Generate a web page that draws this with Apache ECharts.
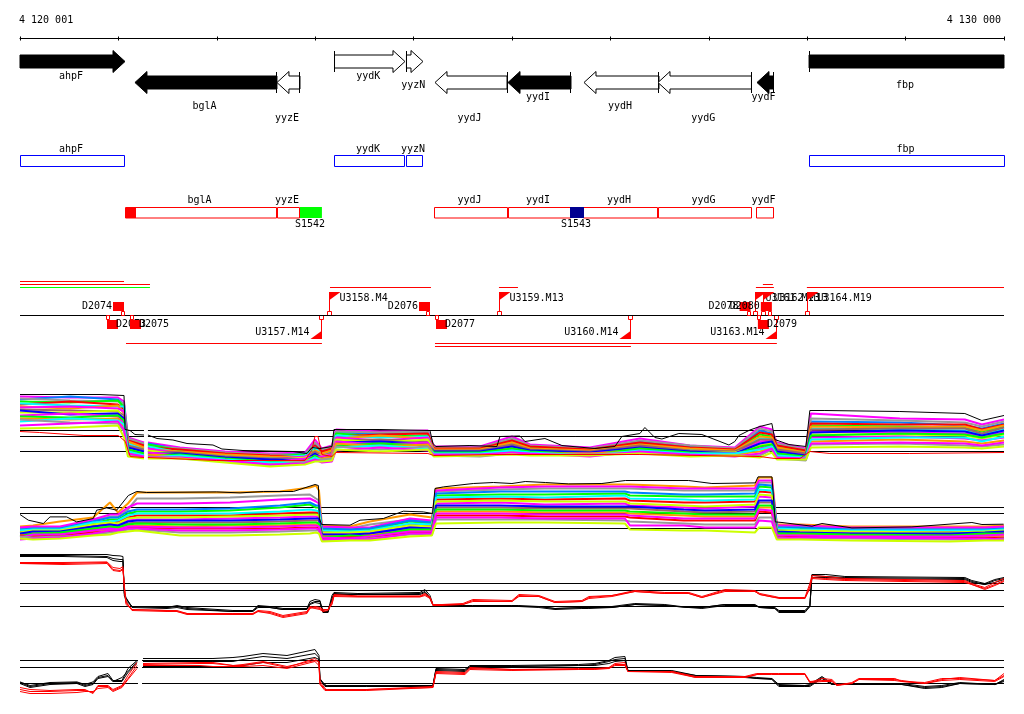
<!DOCTYPE html>
<html>
<head>
<meta charset="utf-8">
<style>html,body{margin:0;background:#fff}#chart{width:1024px;height:714px}</style>
<script src="https://cdn.jsdelivr.net/npm/echarts@6/dist/echarts.min.js"></script>
</head>
<body>
<div id="chart"></div>
<script>
// all positions are bp from the start of the window (4 120 001)
const rulerLabels = ['4 120 001', '4 130 000'];

// annotated genes
const geneNames = ['ahpF', 'bglA', 'yyzE', 'yydK', 'yyzN', 'yydJ', 'yydI', 'yydH', 'yydG', 'yydF', 'fbp'];
const geneStart = [0, 1168, 2611, 3196, 3927, 4217, 4959, 5731, 6483, 7489, 8018];
const geneEnd = [1067, 2611, 2845, 3912, 4095, 4949, 5599, 6493, 7433, 7652, 9999];
const geneStrand = [1, -1, -1, 1, 1, -1, -1, -1, -1, -1, 1];
const geneSolid = [1, 1, 0, 0, 0, 0, 1, 0, 0, 1, 1];
const geneLane = [0, 1, 1, 0, 0, 1, 1, 1, 1, 1, 0];
const geneLabelRow = [0, 3, 4, 0, 1, 4, 2, 3, 4, 2, 1];

// transcription units
const blueNames = ['ahpF', 'yydK', 'yyzN', 'fbp'];
const blueStart = [0, 3196, 3927, 8018];
const blueEnd = [1062, 3912, 4095, 9999];
const redNames = ['bglA', 'yyzE', 'yydJ', 'yydI', 'yydH', 'yydG', 'yydF'];
const redStart = [1077, 2616, 4217, 4959, 5731, 6493, 7489];
const redEnd = [2611, 2845, 4949, 5589, 6483, 7433, 7652];

// filled blocks on the transcription unit row
const blockNames = ['', 'S1542', 'S1543'];
const blockStart = [1077, 2845, 5589];
const blockEnd = [1179, 3068, 5731];
const blockColours = ['#ff0000', '#00ff00', '#000090'];

// read bars
const readStart = [0, 0, 0, 3150, 4867, 7478, 7549, 7996, 1077, 4217, 4217];
const readEnd = [1057, 1321, 1321, 4176, 5060, 7661, 7651, 9999, 3068, 7691, 6208];
const readLane = [0, 1, 2, 2, 2, 2, 1, 2, 3, 3, 4];
const readColours = ['#ff0000', '#ff0000', '#00ff00', '#ff0000', '#ff0000', '#ff0000', '#ff0000', '#ff0000', '#ff0000', '#ff0000', '#ff0000'];

// promoter flags and terminator boxes on the strand line
const flagNames = ['U3157.M14', 'U3158.M4', 'U3159.M13', 'U3160.M14', 'U3161.M13', 'U3162.M13', 'U3163.M14', 'U3164.M19'];
const flagPos = [3068, 3150, 4872, 6203, 7478, 7559, 7691, 8001];
const flagStrand = [-1, 1, 1, -1, 1, 1, -1, 1];
const termNames = ['D2073', 'D2074', 'D2075', 'D2076', 'D2077', 'D2078', 'D2079', 'D2080'];
const termPos = [884, 1057, 1118, 4166, 4227, 7424, 7498, 7640];
const termStrand = [-1, 1, -1, 1, -1, 1, -1, 1];

// levels of the three horizontal reference lines
const track1Refs = [0, 15, 21];
const track2Refs = [0, 15, 21];
const track3Refs = [0, 16, 23];
const track4Refs = [0, 16, 23];
const refPosGap1 = [0, 1260, 1280, 1300, 9999];
const refPosGap4 = [0, 1199, 1219, 1240, 9999];
const refPosFull = [0, 9999];

// track 1: one row per position, one value per hybridisation
const track1Pos = [0, 508, 996, 1057, 1097, 1260, 1280, 1300, 1626, 2083, 2540, 2896, 2997, 3068, 3170, 3211, 3658, 4145, 4206, 4674, 4999, 5182, 5791, 6299, 6807, 7264, 7518, 7640, 7691, 7986, 8037, 8941, 9601, 9774, 9999];
const track1Rows = [
  [55,52,53,50,47,48,45,44,42,39,41,36,35,33,30,32,26,23],
  [54,55,51,49,50,46,43,45,41,39,37,38,34,32,33,29,28,24],
  [54,52,50,51,47,45,46,43,40,41,38,35,36,33,31,28,30,26],
  [50,47,48,44,42,45,38,40,36,30,33,28,31,24,27,20,22,14],
  [14,12,13,9,11,8,10,5,6,3,4,1,2,-1,0,-3,-2,-5],
  [9,7,8,5,6,3,4,1,2,-1,0,-3,-2,-5,-4,-6,-5,-7],
  [null,null,null,null,null,null,null,null,null,null,null,null,null,null,null,null,null,null],
  [9,8,6,7,4,5,2,3,0,1,-2,-1,-4,-3,-6,-5,-6,-7],
  [4,2,3,1,2,-1,0,-2,-1,-3,-2,-4,-3,-5,-4,-7,-6,-7],
  [0,-2,-1,-3,-2,-4,-3,-6,-5,-7,-6,-8,-7,-9,-8,-10,-9,-11],
  [-2,-4,-3,-5,-4,-6,-5,-8,-7,-9,-8,-11,-10,-12,-11,-14,-13,-15],
  [-1,-2,-3,-3,-5,-4,-6,-5,-7,-6,-8,-7,-10,-9,-11,-10,-12,-13],
  [12,7,9,3,6,4,1,-1,0,-3,-2,-5,-4,-7,-6,-9,-8,-10],
  [3,1,2,-1,0,-3,-2,-4,-5,-4,-6,-5,-8,-7,-9,-8,-11,-10],
  [6,4,5,2,3,0,1,-2,-1,-3,-4,-3,-6,-5,-8,-7,-10,-9],
  [22,19,20,18,15,16,13,14,11,12,9,10,6,8,4,5,1,2],
  [20,18,19,15,17,14,16,11,12,9,10,7,8,5,6,2,4,0],
  [21,19,20,16,18,15,13,14,10,12,8,9,6,7,3,5,1,2],
  [5,3,4,2,3,1,2,0,1,-1,0,-2,-1,-3,-2,-4,-3,-5],
  [5,3,4,2,3,1,2,0,1,-1,0,-2,-1,-3,-2,-5,-3,-4],
  [15,12,13,10,11,8,9,6,7,4,5,2,3,0,1,-2,-1,-3],
  [7,5,6,4,5,2,3,1,2,0,1,-1,0,-2,-1,-3,-2,-4],
  [4,2,3,1,2,0,1,-1,0,-2,-1,-2,-3,-2,-4,-3,-5,-4],
  [13,10,11,8,9,6,7,5,6,3,4,2,3,0,1,-1,0,-2],
  [6,5,6,3,4,2,3,0,1,-1,0,-2,-1,-3,-2,-4,-3,-5],
  [4,2,3,1,2,0,1,-1,0,-1,-2,-2,-3,-3,-2,-4,-5,-4],
  [25,21,23,17,19,13,15,10,12,6,8,3,5,0,2,-4,-2,-6],
  [22,18,20,15,17,13,14,11,12,8,10,6,7,4,5,2,3,-1],
  [9,7,8,5,6,3,4,1,2,-1,0,-3,-2,-5,-4,-7,-6,-8],
  [3,1,2,0,1,-2,-1,-3,-2,-5,-4,-6,-5,-7,-6,-9,-7,-8],
  [38,30,33,26,28,23,25,20,22,17,19,14,16,10,12,7,8,4],
  [33,29,31,25,27,22,24,19,23,17,21,15,18,12,14,8,9,5],
  [32,26,29,24,27,21,25,18,23,16,20,13,17,10,14,6,8,4],
  [27,23,25,20,22,17,21,15,18,13,16,11,14,8,10,5,6,3],
  [32,28,30,25,27,22,26,19,24,17,21,14,18,11,15,7,9,5]
];
const track1Colours = ['#ff00ff', '#0080ff', '#999999', '#00ff00', '#ff0000', '#00ffff', '#ff9900', '#ff00ff', '#996666', '#ccff00', '#0000ff', '#ff00ff', '#00ff00', '#ff9900', '#00ffff', '#999999', '#ff00ff', '#ccff00'];
const track1BlackPos = [0, 813, 1057, 1067, 1118, 1168, 1260, 1280, 1300, 1392, 1554, 1697, 1961, 2052, 2266, 2774, 2916, 2967, 3048, 3170, 3190, 3658, 4166, 4196, 4227, 4572, 4846, 4877, 5080, 5131, 5334, 5507, 5842, 6045, 6116, 6299, 6350, 6451, 6523, 6695, 6929, 7204, 7264, 7305, 7417, 7518, 7640, 7671, 7813, 7986, 8026, 8179, 8941, 9601, 9774, 9999];
const track1Black = [57, 57, 56, 22, 21, 17, 16.5, null, 16.5, 13, 11.5, 8, 6.5, 2.5, 1, 0, -2, 4, 3, 5, 22, 22, 21, 8, 5, 6, 5, 15, 15.5, 10, 13, 6, 3, 5, 15, 18, 24, 14, 12.5, 18, 17, 6.5, 10, 16, 21.5, 25, 28, 12, 7, 5, 41, 41, 40, 38, 31, 36];
const track1RedPos = [0, 200, 650, 1000, 1070, 1120, 1260, 1280, 1300, 2000, 2896, 2967, 2997, 3028, 3068, 3170, 3211, 4145, 4206, 4877, 6299, 7518, 7671, 7925, 8026, 8230, 9042, 9999];
const track1Red = [20, 19, 16, 16, 10, -5, -6, null, -6, -9, -9, 2, 15, 15, -3, -5, -1, -2, -4, -3, -3, -5, -7, -7, 0, -2, -2, -1];

// track 2, read the same way
const track2Pos = [0, 132, 406, 742, 914, 996, 1097, 1189, 1626, 2134, 2642, 2946, 3007, 3038, 3068, 3353, 3556, 3962, 4186, 4227, 4877, 5334, 6147, 6198, 6746, 6959, 7468, 7509, 7640, 7691, 7925, 8433, 9449, 9804, 9999];
const track2Rows = [
  [2,0,1,-2,-1,-3,-2,-5,-4,-6,-5,-7,-8,-7,-9,-8,-11,-10],
  [3,1,2,-1,0,-3,-1,-4,-2,-5,-3,-7,-5,-8,-6,-9,-10,-11],
  [7,1,2,-1,0,-2,-1,-4,-2,-5,-3,-6,-4,-7,-6,-8,-9,-10],
  [11,8,9,5,7,3,6,1,4,-1,2,-3,0,-4,-2,-6,-5,-7],
  [26,12,14,9,11,5,7,3,6,1,4,-1,2,-3,0,-4,-2,-6],
  [16,12,14,9,11,7,8,4,5,2,3,0,1,-2,-1,-3,-2,-4],
  [25,19,21,15,17,11,13,8,10,5,7,3,4,1,2,-1,0,-3],
  [36,30,25,17,19,13,15,9,11,6,8,3,5,1,2,-1,0,-2],
  [36,30,25,17,19,13,15,9,11,6,8,2,4,0,1,-4,-2,-7],
  [36,31,26,18,20,13,15,10,12,6,8,3,4,0,1,-4,-2,-7],
  [37,33,29,21,23,15,17,11,13,7,9,3,5,0,2,-3,-1,-6],
  [41,34,30,24,26,16,19,12,14,8,10,4,6,1,3,-2,0,-5],
  [43,30,27,21,23,16,18,12,14,8,10,4,6,1,3,-2,0,-4],
  [38,28,25,21,23,15,17,11,13,8,10,3,5,0,2,-2,-1,-5],
  [3,1,2,-1,0,-3,-2,-5,-4,-7,-6,-8,-9,-10,-9,-12,-11,-13],
  [2,0,1,-2,-1,-4,-3,-5,-4,-7,-6,-8,-7,-9,-10,-11,-10,-12],
  [7,4,1,-1,0,-3,-2,-4,-3,-6,-5,-7,-8,-9,-8,-10,-11,-12],
  [14,9,10,7,8,4,5,2,3,0,1,-2,-1,-4,-3,-6,-5,-8],
  [11,7,8,5,6,3,4,1,2,-1,0,-2,-1,-4,-3,-6,-5,-7],
  [40,37,38,33,35,29,31,25,27,21,23,17,19,13,15,9,11,5],
  [42,39,41,34,37,30,32,26,28,21,23,17,19,13,15,9,11,6],
  [44,40,42,34,37,29,31,24,27,20,22,16,18,12,14,9,10,6],
  [44,40,42,35,37,30,33,25,27,20,22,16,18,12,14,8,10,5],
  [44,40,42,33,36,28,30,23,25,20,22,15,17,11,13,7,3,-1],
  [42,38,40,32,34,26,29,21,23,17,19,13,15,8,10,5,3,-2],
  [41,38,40,32,34,26,28,20,22,16,18,12,14,8,10,4,1,-2],
  [43,38,40,32,35,27,29,22,24,17,19,12,14,8,10,4,1,-4],
  [51,46,48,42,44,37,39,32,34,26,28,21,23,17,19,11,8,1],
  [51,46,48,41,43,36,38,31,33,26,28,21,23,16,18,11,7,1],
  [4,2,3,0,1,-1,0,-3,-2,-4,-3,-6,-5,-8,-7,-9,-10,-11],
  [4,2,3,0,1,-2,-1,-3,-2,-5,-4,-6,-5,-8,-7,-10,-9,-11],
  [2,0,1,-2,-1,-3,-2,-4,-3,-6,-5,-7,-6,-9,-8,-10,-9,-12],
  [2,0,1,-2,-1,-3,-2,-5,-4,-6,-5,-8,-7,-9,-8,-11,-10,-13],
  [2,0,1,-2,-1,-3,-2,-5,-3,-6,-4,-7,-5,-9,-7,-11,-10,-12],
  [3,1,2,-1,0,-3,-1,-4,-2,-6,-3,-7,-5,-9,-6,-10,-11,-12]
];
const track2Colours = ['#ff9900', '#999999', '#ff00ff', '#00ff00', '#0080ff', '#ff0000', '#00ffff', '#ff00ff', '#ccff00', '#996666', '#0000ff', '#ff9900', '#00ff00', '#ff0000', '#ff00ff', '#999999', '#ff00ff', '#ccff00'];
const track2BlackPos = [0, 85, 237, 305, 474, 576, 745, 779, 881, 982, 1101, 1186, 1287, 1999, 2236, 2473, 2778, 2998, 3032, 3042, 3065, 3353, 3455, 3692, 3895, 4098, 4193, 4217, 4302, 4606, 4810, 4999, 5134, 5338, 5575, 5913, 6151, 6794, 7031, 7472, 7499, 7641, 7675, 7743, 8047, 8149, 8454, 9063, 9673, 9775, 9995];
const track2Black = [14, 8.3, 5, 11.6, 11.6, 6.6, 10, 18.3, 20.6, 18.3, 33, 37, 36, 36.6, 35.6, 37, 37, 44, 43, 10, 4, 3.3, 8.3, 10, 17.3, 16.6, 15, 40, 41.6, 45, 46, 45, 47, 46, 44.6, 45, 48, 48, 45, 45.6, 51.6, 51.6, 6.6, 6, 2.3, 5, 0.6, 1.6, 6, 4, 4.3];

// tracks 3 and 4: three black replicates, then three red ones
const track3Pos = [0, 437, 884, 894, 945, 1016, 1046, 1060, 1077, 1138, 1494, 1595, 1697, 2164, 2367, 2418, 2540, 2672, 2916, 2946, 2997, 3048, 3078, 3129, 3170, 3190, 3434, 4064, 4115, 4166, 4196, 4288, 4501, 4602, 4999, 5070, 5273, 5436, 5710, 5781, 6015, 6248, 6553, 6797, 6929, 7163, 7468, 7518, 7671, 7712, 7976, 8026, 8047, 8189, 8382, 9601, 9672, 9804, 9906, 9999];
const track3Rows = [
  [52,51,50,44,43,43], [52,51,50,44,43,42], [52,50,49,44.6,44,43], [51,50,48,44,43,42], [51,48,46,39,37,36],
  [50.6,47,45,38,36,35], [50,47,45,40,38,37], [11,13,14,18,20,21], [6,8,9,2,4,5], [0,0,-1,-3,-3,-4],
  [-1,-1,-2,-4,-4,-5], [1,0,-1,-4,-5,-5], [-1,-2,-3,-7,-7,-8], [-4,-5,-5,-7,-8,-8], [-4,-4,-5,-7,-7,-8],
  [1,0,-1,-4,-5,-5], [0,-1,-1,-5,-6,-7], [-2,-3,-3,-9,-10,-11], [-2,-2,-3,-5,-6,-7], [5,3,2,0,-1,-2],
  [7,5,4,-1,-2,0], [6,5,3,-2,-3,-1], [-5,-6,-4,-4,-5,-3], [-5,-6,-6,-3,-4,-3], [11,8,7,5,3,2],
  [14,13,12,12,11,10], [13,12,12,10.6,10,9.5], [14,13,12,10.6,10,9.5], [17,15,14,13,12,11], [11,9,8,9.6,9,8],
  [2,2,1,2,2,1], [1,0,0,2,2,1], [1,0,0,3,2,2], [1,0,0,7,6,5], [1,0,0,6,5,5],
  [1,0,0,12,11,10], [0,0,-1,11,10,10], [-2,-2,-3,5,4,4], [-1,-1,-2,6,5,5], [-1,-1,-2,10,9,8],
  [0,-1,-1,11,11,10], [3,2,2,16,15,15], [2,1,1,14,13,13], [-1,-1,-1,14,13,13], [-1,-1,-2,10,9,9],
  [2,2,1,17,16,15], [2,1,1,16,15,15], [-1,-1,-1,13,12,12], [-1,-2,-2,10,9,9], [-4,-5,-6,9,9,8],
  [-4,-5,-6,9,8,8], [1,0,0,23,20,18], [32,31,29,31,29,28], [32,30,29,30,28,27], [30,29,28,28,27,26],
  [29,28,27,26,25,24], [26,25,24,23,22,22], [23,22,22,19,18,17], [27,26,24,24,22,21], [29,28,27,28,26,25]
];
const track4Pos = [0, 102, 305, 579, 660, 742, 792, 894, 945, 1036, 1097, 1189, 1219, 1250, 1829, 1961, 2164, 2266, 2469, 2713, 2997, 3038, 3048, 3099, 3129, 3525, 4196, 4227, 4521, 4572, 4999, 5676, 5842, 5984, 6045, 6147, 6177, 6624, 6868, 7366, 7488, 7640, 7711, 7976, 8026, 8149, 8250, 8301, 8453, 8524, 8890, 8961, 9194, 9367, 9550, 9906, 9999];
const track4Rows = [
  [1.6,1,0,-4,-6,-8], [-2,-3,-4,-6,-8,-10], [1,0,-1,-7,-8,-10], [1.6,1,0,-6,-7,-9], [-1,-2,-3,-6,-7,-8],
  [1.6,0,-1,-10,-9,-8], [7,6,5,-2,-3,-5], [10,8,7,-2,-3,-4], [3,2,2,-6,-7,-8], [3,6,2,-2,-3,-4],
  [15,12,11,8,5,4], [23,22,20,21,18,15], [null,null,null,null,null,null], [25,22,17,20,19,18], [25,22,17,21,20,18],
  [25,22,17,21,20,17], [26,22,17,18,18,17], [27,24,18,19,18,17], [30,27,21,22,21,18], [28,25,21,17,16,15],
  [34,30,26,23,25,22], [28,26,24,22,21,18], [5,4,4,2,0,-1], [-2,-1,-3,-5,-6,-7], [-2,-3,-3,-7,-6,-7],
  [-2,-2,-3,-6,-6,-7], [-2,-2,-3,-3,-4,-4], [15,14,13,12,11,10], [14,13,12,11,10,9], [18,17,16,16,15,14],
  [18,17,17,14,14,13], [19,18,18,15,14,14], [20,19,18,15,15,14], [23,22,20,16,15,15], [26,24,22,20,19,18],
  [27,25,23,21,19,18], [13,13,13,12,12,12], [13,12,12,12,12,11], [8,8,7,7,6,6], [7,7,6,7,6,6],
  [6,5,5,10,9,9], [5,5,4,10,10,9], [-1,-2,-3,10,9,9], [-2,-2,-3,10,9,9], [-1,-2,-3,2,1,1],
  [7,6,5,3,5,2], [0,-1,-1,3,4,2], [0,-1,-1,-2,-1,-2], [0,-1,-1,1,0,0], [0,-1,-1,5,4,4],
  [0,-1,-1,5,4,3], [0,-1,-1,2,3,2], [-3,-4,-5,1,0,0], [-2,-3,-4,5,4,3], [1,0,0,5,6,4],
  [-1,-1,-1,3,3,2], [4,3,2,10,8,7]
];
const replicateColours = ['#000000', '#000000', '#000000', '#ff0000', '#ff0000', '#ff0000'];

// layout, in pixels from the top of the feature grid
const FONT = '10px "DejaVu Sans Mono"';
const laneY = [61.5, 82.5];
const labelRowY = [76.5, 85.5, 97.5, 106.5, 118.5];
const readLaneY = [281.5, 284.5, 287.5, 343.5, 346.5];
const STRAND_Y = 315.5;
const crisp = (v) => Math.round(v - 0.5) + 0.5;

const text = (str, x, y, align) => ({
  type: 'text',
  style: { text: str, x: x, y: y, font: FONT, fill: '#000', textAlign: align || 'center', textVerticalAlign: 'middle' }
});
const poly = (points, fill, stroke) => ({
  type: 'polygon',
  shape: { points: points },
  style: { fill: fill, stroke: stroke || null, lineWidth: 1 }
});
const seg = (x1, y1, x2, y2, colour) => ({
  type: 'line',
  shape: { x1: x1, y1: y1, x2: x2, y2: y2 },
  style: { stroke: colour, lineWidth: 1 }
});
const box = (x1, y1, x2, y2, fill, stroke) => ({
  type: 'rect',
  shape: { x: x1, y: y1, width: x2 - x1, height: y2 - y1 },
  style: { fill: fill, stroke: stroke || null, lineWidth: 1 }
});

function renderGene(params, api) {
  const i = params.dataIndex;
  const yc = laneY[geneLane[i]];
  const y0 = api.coord([0, yc])[1];
  const from = api.coord([geneStart[i], yc])[0];
  const to = api.coord([geneEnd[i], yc])[0];
  const dir = geneStrand[i];
  const tail = dir > 0 ? from : to;
  const tip = dir > 0 ? to : from;
  const neck = tip - dir * 12;
  const headless = geneEnd[i] >= 9999;
  const fill = geneSolid[i] ? '#000' : '#fff';
  const points = headless
    ? [[tail, y0 - 6.5], [tip, y0 - 6.5], [tip, y0 + 6.5], [tail, y0 + 6.5]]
    : [[tail, y0 - 6.5], [neck, y0 - 6.5], [neck, y0 - 11], [tip, y0], [neck, y0 + 11], [neck, y0 + 6.5], [tail, y0 + 6.5]];
  const items = [poly(points, fill, '#000')];
  if (geneStart[i] > 0) {
    items.push(seg(crisp(tail), y0 - 10.5, crisp(tail), y0 + 10.5, '#000'));
  }
  items.push(text(geneNames[i], (from + to) / 2 - 1.5, labelRowY[geneLabelRow[i]]));
  return { type: 'group', children: items };
}

function renderUnit(names, starts, ends, colour, top, labelY) {
  return function (params, api) {
    const i = params.dataIndex;
    const x1 = crisp(api.coord([starts[i], 0])[0]);
    const x2 = crisp(api.coord([ends[i], 0])[0]);
    return {
      type: 'group',
      children: [
        box(x1, top, x2, top + 10.5 + (colour === '#0000ff' ? 0.5 : 0), '#fff', colour),
        text(names[i], (x1 + x2) / 2 - 1.5, labelY)
      ]
    };
  };
}

function renderBlock(params, api) {
  const i = params.dataIndex;
  const x1 = api.coord([blockStart[i], 0])[0];
  const x2 = api.coord([blockEnd[i], 0])[0];
  const items = [box(x1, 207, x2, 218, blockColours[i])];
  if (blockNames[i]) {
    items.push(text(blockNames[i], (x1 + x2) / 2 - 1, 224));
  }
  return { type: 'group', children: items };
}

function renderRead(params, api) {
  const i = params.dataIndex;
  const y = readLaneY[readLane[i]];
  return seg(api.coord([readStart[i], 0])[0], y, api.coord([readEnd[i], 0])[0], y, readColours[i]);
}

function renderTerm(params, api) {
  const i = params.dataIndex;
  const x = api.coord([termPos[i], 0])[0];
  if (termStrand[i] > 0) {
    return { type: 'group', children: [
      text(termNames[i], x - 12, 306.5, 'right'),
      box(x - 11, 302, x, 311, '#ff0000'),
      box(crisp(x - 3), 311.5, crisp(x), 315.5, null, '#ff0000')
    ] };
  }
  return { type: 'group', children: [
    box(crisp(x), 315.5, crisp(x + 3), 319.5, null, '#ff0000'),
    box(x, 320, x + 11, 329, '#ff0000'),
    text(termNames[i], x + 9, 324.5, 'left')
  ] };
}

function renderFlag(params, api) {
  const i = params.dataIndex;
  const x = crisp(api.coord([flagPos[i], 0])[0]);
  if (flagStrand[i] > 0) {
    return { type: 'group', children: [
      seg(x, 292, x, 312, '#ff0000'),
      poly([[x, 292], [x + 11, 292], [x, 300]], '#ff0000'),
      box(x - 2, 311.5, x + 2, 315.5, null, '#ff0000'),
      text(flagNames[i], x + 10, 298.5, 'left')
    ] };
  }
  return { type: 'group', children: [
    seg(x, 319, x, 339, '#ff0000'),
    poly([[x, 339], [x - 11, 339], [x, 331]], '#ff0000'),
    box(x - 2, 315.5, x + 2, 319.5, null, '#ff0000'),
    text(flagNames[i], x - 12, 332.5, 'right')
  ] };
}

function renderRulerLabel(params, api) {
  const i = params.dataIndex;
  return i === 0
    ? text(rulerLabels[0], api.coord([0, 0])[0] - 1, 20, 'left')
    : text(rulerLabels[1], api.coord([9999, 0])[0] - 3, 20, 'right');
}

const featureSeries = (data, renderItem) => ({
  type: 'custom',
  xAxisIndex: 0,
  yAxisIndex: 0,
  silent: true,
  clip: false,
  animation: false,
  data: data.map((d, i) => [i, 0]),
  renderItem: renderItem
});

function lineSeries(index, pos, values, colour, width) {
  return {
    type: 'line',
    xAxisIndex: index,
    yAxisIndex: index,
    showSymbol: false,
    symbol: 'none',
    silent: true,
    clip: false,
    animation: false,
    connectNulls: false,
    lineStyle: { color: colour, width: width, cap: 'butt', join: 'bevel' },
    data: pos.map((p, i) => [p, values[i]])
  };
}

function refSeries(index, refs, pos) {
  return refs.map((r) => lineSeries(index, pos, pos.map((p) => (p === 1280 || p === 1219 ? null : r)), '#000', 1));
}

function tableSeries(index, pos, rows, colours, width) {
  return colours.map((c, j) => lineSeries(index, pos, rows.map((row) => row[j]), c, width));
}

const grids = [
  { left: 20, width: 984, top: 0, height: 380 },
  { left: 20, width: 984, top: 391.5, height: 80 },
  { left: 20, width: 984, top: 473.5, height: 75 },
  { left: 20, width: 984, top: 551.5, height: 75 },
  { left: 20, width: 984, top: 645.5, height: 63 },
  { left: 20, width: 984, top: 36.5, height: 4 }
];
const yRanges = [[0, 380], [-20, 60], [-20, 55], [-20, 55], [-25, 38], [0, 1]];

const xAxes = grids.map((g, i) => ({
  type: 'value',
  gridIndex: i,
  min: 0,
  max: 9999,
  show: false
}));
// ruler: the split lines are the ticks
xAxes[5] = {
  type: 'value',
  gridIndex: 5,
  position: 'top',
  offset: -2,
  min: 0,
  max: 9999,
  interval: 1000,
  axisLine: { show: true, onZero: false, lineStyle: { color: '#000', width: 1 } },
  axisTick: { show: false },
  axisLabel: { show: false },
  splitLine: { show: true, lineStyle: { color: '#000', width: 1 } }
};

const chart = echarts.init(document.getElementById('chart'), null, { renderer: 'canvas' });
chart.setOption({
  animation: false,
  backgroundColor: '#fff',
  tooltip: { show: false },
  grid: grids,
  xAxis: xAxes,
  yAxis: yRanges.map((r, i) => ({
    type: 'value',
    gridIndex: i,
    min: r[0],
    max: r[1],
    inverse: i === 0,
    show: false
  })),
  series: [
    featureSeries(rulerLabels, renderRulerLabel),
    featureSeries(geneNames, renderGene),
    featureSeries(blueNames, renderUnit(blueNames, blueStart, blueEnd, '#0000ff', 155.5, 149.5)),
    featureSeries(redNames, renderUnit(redNames, redStart, redEnd, '#ff0000', 207.5, 200.5)),
    featureSeries(blockNames, renderBlock),
    featureSeries(readStart, renderRead),
    featureSeries(flagNames, renderFlag),
    featureSeries([0], (params, api) => seg(api.coord([0, 0])[0], STRAND_Y, api.coord([9999, 0])[0], STRAND_Y, '#000')),
    featureSeries(termNames, renderTerm)
  ].concat(
    refSeries(1, track1Refs, refPosGap1),
    refSeries(2, track2Refs, refPosFull),
    refSeries(3, track3Refs, refPosFull),
    refSeries(4, track4Refs, refPosGap4),
    tableSeries(1, track1Pos, track1Rows, track1Colours, 2),
    [lineSeries(1, track1RedPos, track1Red, '#ff0000', 1), lineSeries(1, track1BlackPos, track1Black, '#000', 1)],
    tableSeries(2, track2Pos, track2Rows, track2Colours, 2),
    [lineSeries(2, track2BlackPos, track2Black, '#000', 1)],
    tableSeries(3, track3Pos, track3Rows, replicateColours, 1),
    tableSeries(4, track4Pos, track4Rows, replicateColours, 1)
  )
});
</script>
</body>
</html>
